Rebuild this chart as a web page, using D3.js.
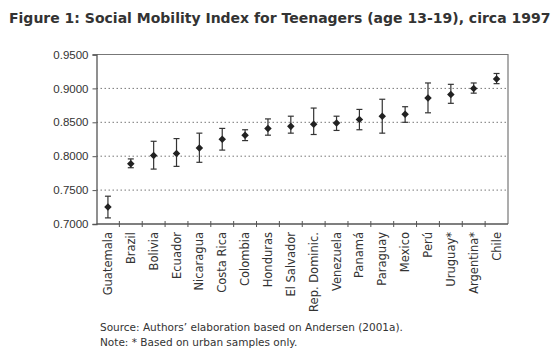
<!DOCTYPE html>
<html>
<head>
<meta charset="utf-8">
<script src="https://cdn.jsdelivr.net/npm/d3@7"></script>
<style>
  body { margin: 0; background: #fff; }
  svg { display: block; font-family: "DejaVu Sans", sans-serif; }
  .title { font-weight: bold; font-size: 14px; fill: #333; }
  .axis text { font-size: 11.5px; fill: #333; }
  .axis path, .axis line { stroke: #555; }
  .grid line { stroke: #777; stroke-dasharray: 1.5,2.5; }
  .note { font-size: 10.5px; fill: #333; }
</style>
</head>
<body>
<svg id="chart"></svg>
<script>
// Social mobility index by country, with lower / upper bounds
const countries = ["Guatemala", "Brazil", "Bolivia", "Ecuador", "Nicaragua", "Costa Rica", "Colombia",
  "Honduras", "El Salvador", "Rep. Dominic.", "Venezuela", "Panamá", "Paraguay", "Mexico",
  "Perú", "Uruguay*", "Argentina*", "Chile"];
const index = [0.725, 0.789, 0.801, 0.804, 0.812, 0.825, 0.831, 0.841, 0.844, 0.847, 0.849, 0.854,
  0.859, 0.862, 0.886, 0.891, 0.900, 0.914];
const lower = [0.709, 0.783, 0.781, 0.785, 0.791, 0.809, 0.823, 0.831, 0.834, 0.832, 0.838, 0.839,
  0.834, 0.850, 0.864, 0.878, 0.893, 0.907];
const upper = [0.741, 0.796, 0.822, 0.826, 0.834, 0.841, 0.839, 0.855, 0.859, 0.871, 0.859, 0.869,
  0.884, 0.873, 0.908, 0.906, 0.908, 0.922];
const yTicks = [0.70, 0.75, 0.80, 0.85, 0.90, 0.95];

const data = countries.map((c, i) => ({country: c, value: index[i], lo: lower[i], hi: upper[i]}));

const W = 558, H = 362;
const margin = {top: 54.5, right: 50, bottom: 138, left: 96.5};
const width = W - margin.left - margin.right;
const height = H - margin.top - margin.bottom;

const svg = d3.select("#chart").attr("width", W).attr("height", H);

svg.append("text")
  .attr("class", "title")
  .attr("x", 9).attr("y", 23)
  .text("Figure 1: Social Mobility Index for Teenagers (age 13-19), circa 1997");

const g = svg.append("g").attr("transform", `translate(${margin.left},${margin.top})`);

const x = d3.scaleBand().domain(countries).range([0, width]);
const y = d3.scaleLinear().domain([0.70, 0.95]).range([height, 0]);

// dotted gridlines
g.append("g").attr("class", "grid")
  .selectAll("line")
  .data(yTicks.filter(t => t > 0.70 && t < 0.95))
  .join("line")
  .attr("x1", 0).attr("x2", width)
  .attr("y1", d => y(d)).attr("y2", d => y(d));

// frame top + right
g.append("path")
  .attr("d", `M0,0H${width}V${height}`)
  .attr("fill", "none").attr("stroke", "#777").attr("stroke-width", 1.2);

// y axis
const yAxis = g.append("g").attr("class", "axis")
  .call(d3.axisLeft(y).tickValues(yTicks).tickFormat(d3.format(".4f")).tickSize(4).tickPadding(4));
yAxis.select(".domain").attr("stroke-width", 1.3);

// x axis with ticks between categories
const xAxisG = g.append("g").attr("class", "axis").attr("transform", `translate(0,${height})`);
xAxisG.append("line").attr("x1", 0).attr("x2", width).attr("stroke-width", 1.3);
xAxisG.selectAll(".sep")
  .data(countries.slice(1))
  .join("line")
  .attr("class", "sep")
  .attr("x1", d => x(d)).attr("x2", d => x(d))
  .attr("y1", -3).attr("y2", 3);
xAxisG.selectAll(".lbl")
  .data(countries)
  .join("text")
  .attr("class", "lbl")
  .attr("transform", d => `translate(${x(d) + x.bandwidth() / 2 + 4},8) rotate(-90)`)
  .attr("text-anchor", "end")
  .text(d => d);

// error bars
const cap = 3;
const bars = g.append("g").selectAll("g")
  .data(data)
  .join("g")
  .attr("transform", d => `translate(${x(d.country) + x.bandwidth() / 2},0)`)
  .attr("stroke", "#333").attr("stroke-width", 1.2);
bars.append("line").attr("y1", d => y(d.lo)).attr("y2", d => y(d.hi));
bars.append("line").attr("x1", -cap).attr("x2", cap).attr("y1", d => y(d.lo)).attr("y2", d => y(d.lo));
bars.append("line").attr("x1", -cap).attr("x2", cap).attr("y1", d => y(d.hi)).attr("y2", d => y(d.hi));

// diamond markers
g.append("g").selectAll("path")
  .data(data)
  .join("path")
  .attr("transform", d => `translate(${x(d.country) + x.bandwidth() / 2},${y(d.value)})`)
  .attr("d", d3.symbol(d3.symbolDiamond2, 36))
  .attr("fill", "#222");

// source notes
svg.append("text").attr("class", "note").attr("x", 100).attr("y", 331)
  .text("Source: Authors\u2019 elaboration based on Andersen (2001a).");
svg.append("text").attr("class", "note").attr("x", 100).attr("y", 346)
  .text("Note: * Based on urban samples only.");
</script>
</body>
</html>
